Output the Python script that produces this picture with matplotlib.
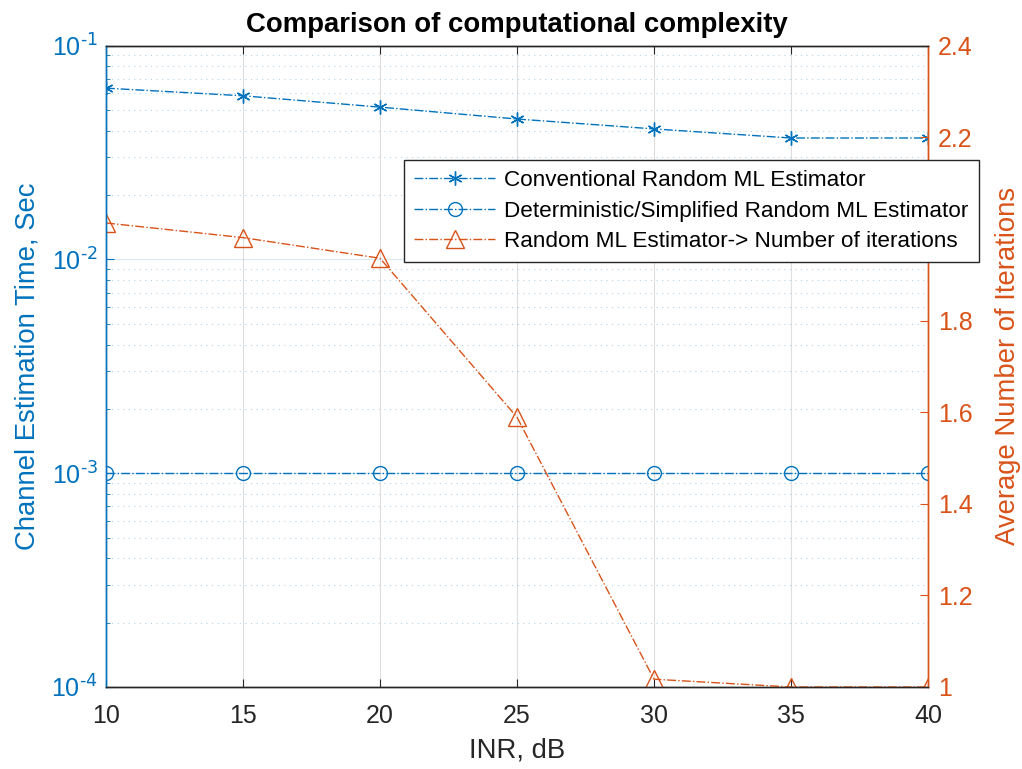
import numpy as np
import matplotlib
matplotlib.use('Agg')
import matplotlib.pyplot as plt
from matplotlib.ticker import LogLocator, FixedFormatter, NullFormatter, FuncFormatter

plt.rcParams['font.family'] = ['Liberation Sans', 'DejaVu Sans']
plt.rcParams['mathtext.default'] = 'regular'

# ── data ──
inr_db = [10, 15, 20, 25, 30, 35, 40]
conv_time = [0.0633, 0.0583, 0.0516, 0.0454, 0.0408, 0.0370, 0.0370]
simp_time = [1e-3, 1e-3, 1e-3, 1e-3, 1e-3, 1e-3, 1e-3]
avg_iters = [2.013, 1.981, 1.936, 1.589, 1.017, 1.0, 1.0]

x_ticks = [10, 15, 20, 25, 30, 35, 40]
right_ticks = [1.0, 1.2, 1.4, 1.6, 1.8, 2.0, 2.2, 2.4]
# the "2" label sits under the legend in the original
right_tick_labels = ['1', '1.2', '1.4', '1.6', '1.8', '', '2.2', '2.4']

BLUE = '#0072BD'
ORANGE = '#D95319'
DARK = '#262626'


def pow10_label(v, pos):
    # MATLAB-style 10^-n with a plain hyphen
    e = int(round(np.log10(v)))
    sign = '-' if e < 0 else ''
    return r'$10^{\text{%s%d}}$' % (sign, abs(e))


fig = plt.figure(figsize=(10.22, 7.69), dpi=100)
ax = fig.add_axes([106 / 1022, 1 - 687 / 769, 822 / 1022, 641.3 / 769])
ax2 = ax.twinx()

asterisk = (6, 2, 0)
h1, = ax.semilogy(inr_db, conv_time, linestyle='-.', color=BLUE, lw=1.0,
                  marker=asterisk, ms=10, mew=1.0,
                  label='Conventional Random ML Estimator')
h2, = ax.semilogy(inr_db, simp_time, linestyle='-.', color=BLUE, lw=1.0,
                  marker='o', ms=10, mfc='none', mew=1.0,
                  label='Deterministic/Simplified Random ML Estimator')
h3, = ax2.plot(inr_db, avg_iters, linestyle='-.', color=ORANGE, lw=1.0,
               marker='^', ms=13, mfc='none', mew=1.0,
               label='Random ML Estimator-> Number of iterations')

# left axis
ax.set_xlim(10, 40)
ax.set_ylim(1e-4, 1e-1)
ax.set_xticks(x_ticks)
ax.yaxis.set_major_locator(LogLocator(base=10, numticks=10))
ax.yaxis.set_major_formatter(FuncFormatter(pow10_label))
ax.yaxis.set_minor_locator(LogLocator(base=10, subs=np.arange(2, 10), numticks=10))
ax.yaxis.set_minor_formatter(NullFormatter())
ax.grid(True, axis='x', which='major', color=DARK, alpha=0.15, lw=0.8)
ax.grid(True, axis='y', which='major', color=BLUE, alpha=0.15, lw=0.8)
ax.grid(True, axis='y', which='minor', color=BLUE, alpha=0.3, lw=0.8,
        ls=(0, (1, 4)))
ax.tick_params(axis='x', which='both', direction='in', top=True, length=6,
               labelsize=18, colors=DARK, pad=12)
ax.tick_params(axis='y', which='major', direction='in', length=6,
               labelsize=18, colors=BLUE, pad=6)
ax.tick_params(axis='y', which='minor', direction='in', length=3, colors=BLUE)
ax.set_xlabel('INR, dB', fontsize=19.8, color=DARK, labelpad=7)
ax.set_ylabel('Channel Estimation Time, Sec', fontsize=19.8, color=BLUE,
              labelpad=8)
ax.set_title('Comparison of computational complexity', fontsize=19.8,
             fontweight='bold', color='black', pad=10)

# right axis
ax2.set_ylim(1, 2.4)
ax2.set_yticks(right_ticks)
ax2.yaxis.set_major_formatter(FixedFormatter(right_tick_labels))
ax2.tick_params(axis='y', direction='in', length=6, labelsize=18,
                colors=ORANGE, pad=7)
ax2.set_ylabel('Average Number of Iterations', fontsize=19.8, color=ORANGE,
               labelpad=16)

for a in (ax, ax2):
    a.spines['top'].set_color(DARK)
    a.spines['bottom'].set_color(DARK)
    a.spines['left'].set_color(BLUE)
    a.spines['right'].set_color(ORANGE)
    for s in a.spines.values():
        s.set_linewidth(1.0)

leg = ax2.legend(handles=[h1, h2, h3], loc='upper left',
                 bbox_to_anchor=(404 / 1022, 1 - 160 / 769),
                 bbox_transform=fig.transFigure, borderaxespad=0,
                 fontsize=16.2, fancybox=False, framealpha=1,
                 edgecolor=DARK, handlelength=3.6, handletextpad=0.4,
                 borderpad=0.45, labelspacing=0.42)
leg.get_frame().set_linewidth(1.0)

fig.savefig('out.png', dpi=100)
